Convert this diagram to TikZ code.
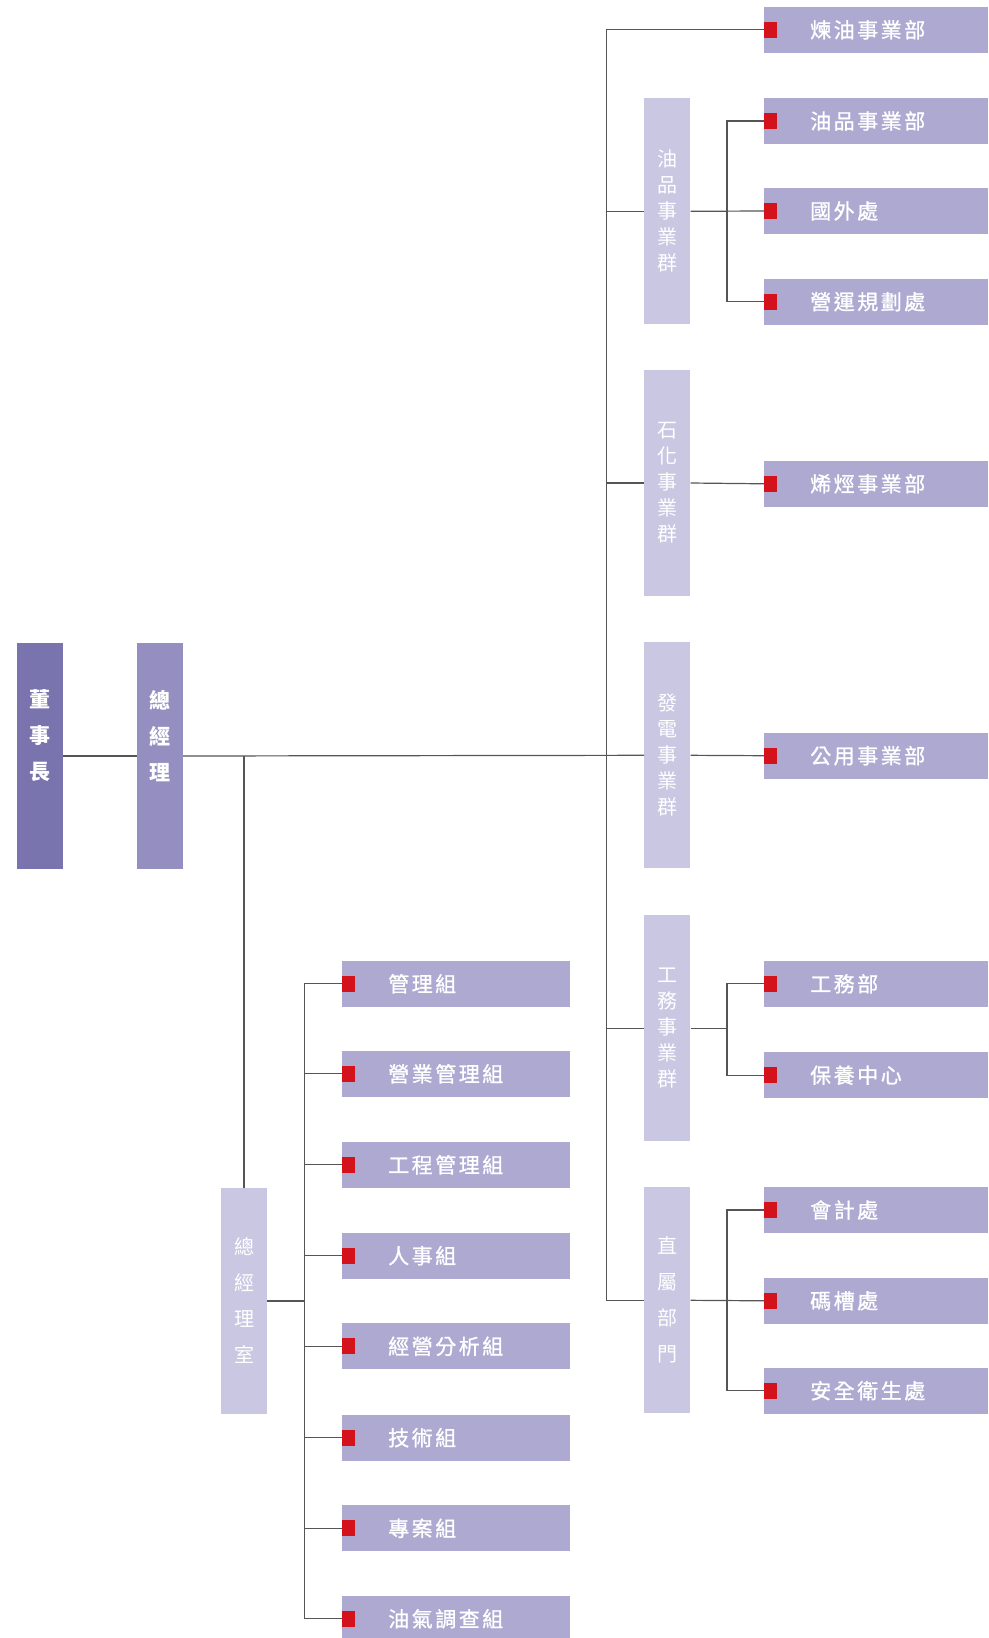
\documentclass[tikz,border=0pt]{standalone}
\usepackage{fontspec}
\usepackage{tikz}
\newfontfamily\cjk[LetterSpace=12,FakeBold=1]{Noto Sans CJK TC}
\newfontfamily\cjkv{Noto Sans CJK TC}
\definecolor{chairfill}{HTML}{7A74AE}
\definecolor{gmfill}{HTML}{948EC1}
\definecolor{grpfill}{HTML}{C9C7E1}
\definecolor{itemfill}{HTML}{AEA9D1}
\definecolor{markred}{HTML}{D3121C}
\definecolor{linegray}{HTML}{555555}

\begin{document}
\begin{tikzpicture}[x=1pt, y=-1pt,
	topbox/.style={minimum width=46, minimum height=226, inner sep=0},
	toptext/.style={text=white, align=center, font=\cjkv\bfseries\fontsize{21}{36}\selectfont, yshift=20pt},
	grpbox/.style={fill=grpfill, minimum width=46, minimum height=226, inner sep=0, text=white, align=center, font=\cjkv\fontsize{20}{26}\selectfont},
	item/.style={anchor=west, fill=itemfill, minimum height=45.7, inner xsep=46, inner ysep=0, text width=132, align=left, text=white, font=\cjk\fontsize{21}{21}\selectfont,
		path picture={\fill[markred] ([yshift=7.85pt]path picture bounding box.west) rectangle ++(12.7,15.7);}},
	litem/.style={item, text width=135.3},
	link/.style={draw=linegray, line width=1.2pt}]
	\useasboundingbox (0,0) rectangle (988,1638);

	% top of the chart
	\node [topbox, fill=chairfill, label={[toptext]center:董\\事\\長}] (chair) at (40,756) {};
	\node [topbox, fill=gmfill, label={[toptext]center:總\\經\\理}] (gm) at (160,756) {};
	\node [grpbox, font=\cjkv\fontsize{20}{36}\selectfont] (gmoffice) at (244,1301) {總\\經\\理\\室};

	% business groups
	\node [grpbox] (grpoil) at (667.3,211.3) {油\\品\\事\\業\\群};
	\node [grpbox] (grppetro) at (667.3,483) {石\\化\\事\\業\\群};
	\node [grpbox] (grppower) at (667.3,755.3) {發\\電\\事\\業\\群};
	\node [grpbox] (grpeng) at (667.3,1028.3) {工\\務\\事\\業\\群};
	\node [grpbox, font=\cjkv\fontsize{20}{36}\selectfont] (grpdirect) at (667.3,1300.3) {直\\屬\\部\\門};

	% departments on the right
	\node [item] (refining) at (764,29.8) {煉油事業部};
	\node [item] (oilprod) at (764,121) {油品事業部};
	\node [item] (overseas) at (764,211) {國外處};
	\node [item] (planning) at (764,301.7) {營運規劃處};
	\node [item] (olefin) at (764,483.8) {烯烴事業部};
	\node [item] (utility) at (764,755.7) {公用事業部};
	\node [item] (engdept) at (764,983.8) {工務部};
	\node [item] (maint) at (764,1075.2) {保養中心};
	\node [item] (account) at (764,1210) {會計處};
	\node [item] (terminal) at (764,1300.8) {碼槽處};
	\node [item] (safety) at (764,1390.7) {安全衛生處};

	% sections of the office
	\node [litem] (sec1) at (342,983.8) {管理組};
	\node [litem] (sec2) at (342,1073.8) {營業管理組};
	\node [litem] (sec3) at (342,1164.8) {工程管理組};
	\node [litem] (sec4) at (342,1255.7) {人事組};
	\node [litem] (sec5) at (342,1346.3) {經營分析組};
	\node [litem] (sec6) at (342,1437.7) {技術組};
	\node [litem] (sec7) at (342,1528.3) {專案組};
	\node [litem] (sec8) at (342,1618.8) {油氣調查組};

	% connectors
	\coordinate (spine) at (606.7,756);
	\coordinate (gmdrop) at (244,756);
	\draw [link] (chair.east) -- (gm.west);
	\draw [link] (gm.east) -- (grppower.west);
	\draw [link] (refining.west) -| (spine) |- (grpdirect.west);
	\foreach \g in {grpoil,grppetro,grpeng}
		\draw [link] (spine |- \g.west) -- (\g.west);
	\draw [link] (gmdrop) -- (gmoffice.north);

	\draw [link] (grpoil.east) -- (overseas.west);
	\draw [link] (oilprod.west) -| ([xshift=36.4pt]grpoil.east) |- (planning.west);
	\draw [link] (grppetro.east) -- (olefin.west);
	\draw [link] (grppower.east) -- (utility.west);
	\draw [link] (grpeng.east) -- ++(36.4,0);
	\draw [link] (engdept.west) -| ([xshift=36.4pt]grpeng.east) |- (maint.west);
	\draw [link] (grpdirect.east) -- (terminal.west);
	\draw [link] (account.west) -| ([xshift=36.4pt]grpdirect.east) |- (safety.west);

	\draw [link] (gmoffice.east) -- ++(37.3,0);
	\draw [link] (sec1.west) -| ([xshift=37.3pt]gmoffice.east) |- (sec8.west);
	\foreach \s in {sec2,sec3,sec4,sec5,sec6,sec7}
		\draw [link] ([xshift=37.3pt]gmoffice.east |- \s.west) -- (\s.west);
\end{tikzpicture}
\end{document}
